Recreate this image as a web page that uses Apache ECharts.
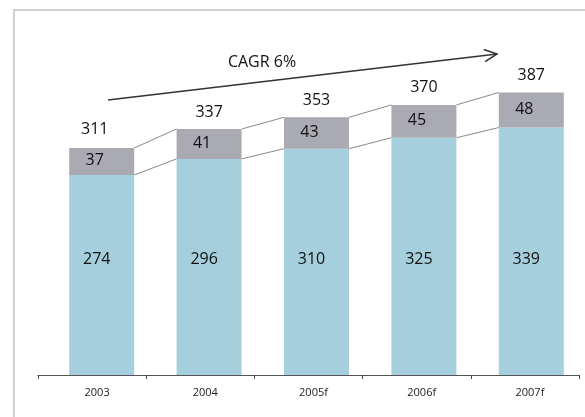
<!DOCTYPE html>
<html>
<head>
<meta charset="utf-8">
<script src="https://cdn.jsdelivr.net/npm/echarts@6/dist/echarts.min.js"></script>
<style>
  html, body { margin: 0; padding: 0; background: #fff; }
  #chart { width: 585px; height: 417px; }
</style>
</head>
<body>
<div id="chart"></div>
<script>
// Years on the x axis
const years = ['2003', '2004', '2005f', '2006f', '2007f'];
// Lower (blue) segment of each stacked bar
const baseValues = [274, 296, 310, 325, 339];
// Upper (grey) segment of each stacked bar
const topValues = [37, 41, 43, 45, 48];
// Growth annotation above the bars
const cagrText = 'CAGR 6%';

const totals = baseValues.map((v, i) => v + topValues[i]);

const BAR_W = 65;
const FONT = '"Open Sans", "Noto Sans", sans-serif';
const TEXT_COLOR = '#111';

// Thin connector between neighbouring bars at a given stack level
function connectorData(levels) {
  const rows = [];
  for (let i = 0; i < levels.length - 1; i++) {
    rows.push([i, levels[i], i + 1, levels[i + 1]]);
  }
  return rows;
}

function connectorSeries(levels) {
  return {
    type: 'custom',
    xAxisIndex: 0,
    yAxisIndex: 0,
    silent: true,
    z: 1,
    data: connectorData(levels),
    encode: { x: [0, 2], y: [1, 3] },
    renderItem: function (params, api) {
      const a = api.coord([api.value(0), api.value(1)]);
      const b = api.coord([api.value(2), api.value(3)]);
      return {
        type: 'line',
        shape: { x1: a[0] + BAR_W / 2, y1: a[1], x2: b[0] - BAR_W / 2, y2: b[1] },
        style: { stroke: '#8a8a8a', lineWidth: 1 }
      };
    }
  };
}

// Sum labels; the first one sits a little left of its bar
const totalPoints = totals.map((v, i) => i === 0
  ? { value: v, label: { offset: [-7, -2] } }
  : { value: v });

// Arrow for the CAGR annotation
const arrowStart = [108, 100];
const arrowEnd = [497, 54];
function arrowHead() {
  const dx = arrowEnd[0] - arrowStart[0];
  const dy = arrowEnd[1] - arrowStart[1];
  const ang = Math.atan2(dy, dx);
  const len = 14, spread = Math.PI / 7;
  const p1 = [arrowEnd[0] - len * Math.cos(ang - spread), arrowEnd[1] - len * Math.sin(ang - spread)];
  const p2 = [arrowEnd[0] - len * Math.cos(ang + spread), arrowEnd[1] - len * Math.sin(ang + spread)];
  return [p1, arrowEnd, p2];
}

const chart = echarts.init(document.getElementById('chart'), null, { renderer: 'canvas' });

chart.setOption({
  animation: false,
  backgroundColor: '#ffffff',
  grid: [
    { left: 48, width: 541, top: 10, bottom: 42 },
    { left: 38, width: 541, top: 10, bottom: 42 }
  ],
  xAxis: [
    {
      gridIndex: 0, type: 'category', data: years,
      axisLine: { show: false }, axisTick: { show: false }, axisLabel: { show: false }
    },
    {
      gridIndex: 1, type: 'category', data: years,
      axisLine: { show: true, lineStyle: { color: '#555', width: 1.2 } },
      axisTick: { show: true, inside: false, length: 4, lineStyle: { color: '#444' } },
      axisLabel: {
        show: true, color: '#222', fontSize: 11, fontFamily: FONT,
        margin: 12, padding: [0, 0, 0, 10]
      }
    }
  ],
  yAxis: [
    { gridIndex: 0, type: 'value', min: 0, max: 500, show: false, splitLine: { show: false } },
    { gridIndex: 1, type: 'value', min: 0, max: 500, show: false, splitLine: { show: false } }
  ],
  series: [
    {
      name: 'base', type: 'bar', stack: 'total', xAxisIndex: 0, yAxisIndex: 0,
      barWidth: BAR_W, z: 2,
      itemStyle: { color: '#a5cfdc' },
      label: {
        show: true, position: 'insideBottom', distance: 108, offset: [-5, 0],
        color: TEXT_COLOR, fontSize: 16, fontFamily: FONT
      },
      data: baseValues
    },
    {
      name: 'top', type: 'bar', stack: 'total', xAxisIndex: 0, yAxisIndex: 0,
      barWidth: BAR_W, z: 2,
      itemStyle: { color: '#aaaab3' },
      label: {
        show: true, position: 'inside', offset: [-7, -1],
        color: TEXT_COLOR, fontSize: 16, fontFamily: FONT
      },
      data: topValues
    },
    {
      name: 'sum', type: 'scatter', xAxisIndex: 0, yAxisIndex: 0,
      symbolSize: 0, silent: true,
      itemStyle: { opacity: 1 },
      label: {
        show: true, position: 'top', distance: 9,
        color: TEXT_COLOR, fontSize: 16, fontFamily: FONT
      },
      data: totalPoints
    },
    connectorSeries(totals),
    connectorSeries(baseValues)
  ],
  graphic: [
    {
      type: 'polyline', silent: true,
      shape: { points: [[14, 420], [14, 10], [590, 10]] },
      style: { stroke: '#cfcfcf', lineWidth: 2, fill: null }
    },
    {
      type: 'line', silent: true,
      shape: { x1: arrowStart[0], y1: arrowStart[1], x2: arrowEnd[0], y2: arrowEnd[1] },
      style: { stroke: '#333', lineWidth: 1.5 }
    },
    {
      type: 'polyline', silent: true,
      shape: { points: arrowHead() },
      style: { stroke: '#333', lineWidth: 1.5, fill: null }
    },
    {
      type: 'text', silent: true,
      x: 262, y: 62,
      style: {
        text: cagrText, fill: TEXT_COLOR, fontSize: 16, fontFamily: FONT,
        textAlign: 'center', textVerticalAlign: 'middle'
      }
    }
  ]
});
</script>
</body>
</html>
